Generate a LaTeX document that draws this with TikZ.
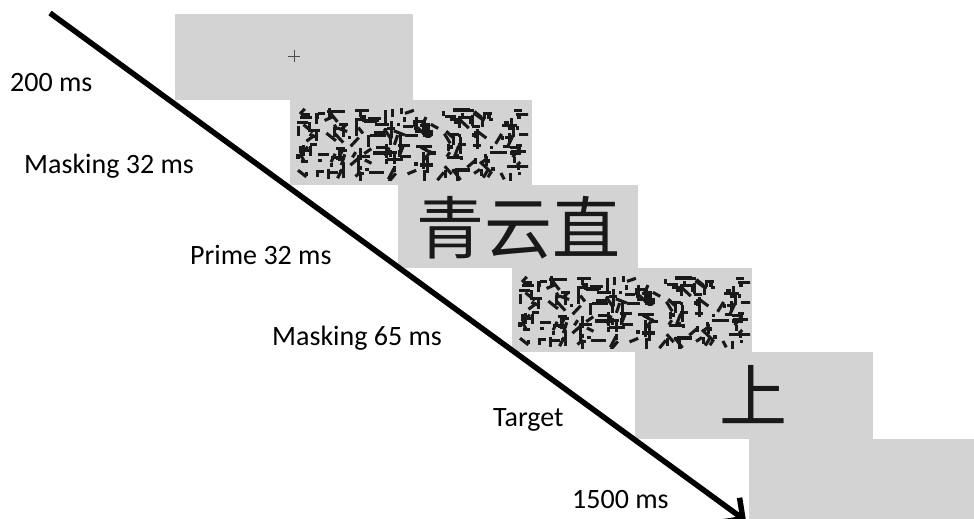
\documentclass[tikz,border=0pt]{standalone}
\usepackage{fontspec}
\setmainfont{Carlito}
\newfontfamily\cjk{Noto Sans CJK SC}
\usetikzlibrary{arrows.meta}
\definecolor{scrgray}{RGB}{211,211,211}
\definecolor{inkdark}{RGB}{25,25,25}
\tikzset{
  screen/.style={fill=scrgray, draw=none, inner sep=0pt, outer sep=0pt, anchor=north west},
  lbl/.style={anchor=base west, inner sep=0pt, font=\fontsize{28}{30}\selectfont},
  bigchar/.style={font=\cjk\fontsize{68}{68}\selectfont, text=inkdark},
  maskstroke/.style={line width=3.1pt, draw=inkdark},
  fixline/.style={line width=0.8pt, draw=black!70},
  timeline/.style={line width=5.5pt, draw=black, -{Straight Barb[length=15pt,width=30pt]}}
}
\newcommand{\maskpattern}[2]{%
  \pgfmathsetseed{4242}%
  \begin{scope}
  \clip (#1+4,#2+5) rectangle (#1+238,#2+80);
  \foreach \r in {0,1}{%
    \foreach \c in {0,...,7}{%
      \foreach \k in {1,...,15}{%
        \pgfmathsetmacro{\px}{#1+7+\c*28.8+rnd*22}%
        \pgfmathsetmacro{\py}{#2+8+\r*36+rnd*30}%
        \pgfmathrandominteger{\tp}{0}{6}%
        \ifcase\tp
          \draw[maskstroke] (\px,\py) -- ++({5+rnd*14},0);
        \or
          \draw[maskstroke] (\px,\py) -- ++({5+rnd*10},0);
        \or
          \draw[maskstroke] (\px,\py) -- ++(0,{6+rnd*14});
        \or
          \draw[maskstroke] (\px,\py) -- ++(0,{4+rnd*8});
        \or
          \draw[maskstroke] (\px,\py) -- ++({3+rnd*8},{3+rnd*8});
        \or
          \draw[maskstroke] (\px,\py) -- ++({-3-rnd*6},{3+rnd*8});
        \or
          \fill[inkdark] (\px,\py) rectangle ++(3.5,3.5);
        \fi
      }%
    }%
  }%
  \end{scope}
}
\begin{document}
\begin{tikzpicture}[x=1pt,y=-1pt]
\useasboundingbox (0,0) rectangle (974,519);
\fill[white] (0,0) rectangle (974,519);

% screens
\node[screen, minimum width=238pt, minimum height=86pt] (fix) at (175,14) {};
\node[screen, minimum width=242pt, minimum height=85pt] (mask1) at (290,100) {};
\node[screen, minimum width=240pt, minimum height=83pt] (prime) at (398,185) {};
\node[screen, minimum width=240pt, minimum height=84pt] (mask2) at (512,268) {};
\node[screen, minimum width=238pt, minimum height=87pt] (target) at (635,352) {};
\node[screen, minimum width=225pt, minimum height=80pt] (blank) at (749,439) {};

% fixation cross
\draw[fixline] ([xshift=-6pt,yshift=1pt]fix.center) -- ([xshift=6pt,yshift=1pt]fix.center);
\draw[fixline] ([yshift=7pt]fix.center) -- ([yshift=-5pt]fix.center);

% masks
\maskpattern{290}{100}
\maskpattern{512}{268}

% prime and target
\node[bigchar] (primetext) at ([yshift=-1pt]prime.center) {青云直};
\node[bigchar] (targettext) at ([xshift=-1pt,yshift=1pt]target.center) {上};

% labels
\node[lbl] (l1) at (10,92) {200 ms};
\node[lbl] (l2) at (24,173) {Masking 32 ms};
\node[lbl] (l3) at (190,264) {Prime 32 ms};
\node[lbl] (l4) at (272,345) {Masking 65 ms};
\node[lbl] (l5) at (493,426) {Target};
\node[lbl] (l6) at (572,508) {1500 ms};

% time arrow
\coordinate (tstart) at (50,13);
\coordinate (tend) at (746,521);
\draw[timeline] (tstart) -- (tend);
\end{tikzpicture}
\end{document}
